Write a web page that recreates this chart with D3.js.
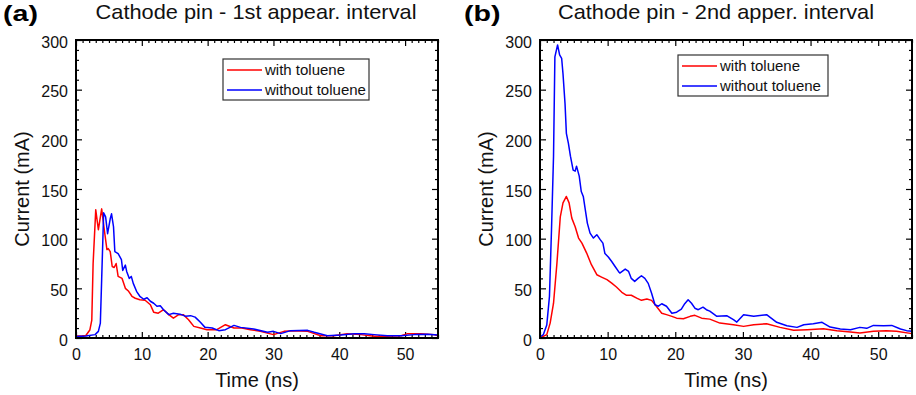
<!DOCTYPE html>
<html>
<head>
<meta charset="utf-8">
<script src="https://cdn.jsdelivr.net/npm/d3@7"></script>
<style>
  body { margin: 0; background: #fff; }
  svg { font-family: "Liberation Sans", Arial, sans-serif; }
</style>
</head>
<body>
<svg id="chart" width="916" height="395"></svg>
<script>
// ---- data (time in ns, current in mA) ----
const aWithT = [0, 1, 1.5, 2.1, 2.4, 2.6, 3.0, 3.4, 3.9, 4.3, 4.7, 4.9, 5.2, 5.5, 5.8, 6.1, 6.4, 7.0, 7.5, 8.0, 8.5, 9.0, 9.7, 10.5, 11.3, 11.8, 12.5, 13.3, 14.1, 14.8, 15.6, 16.3, 17.1, 17.9, 18.9, 19.9, 21.4, 22.7, 24.0, 25.2, 26.5, 28, 30, 31.6, 33.1, 35.2, 37.2, 39.2, 41.2, 43.3, 45.3, 47.3, 49.4, 50.4, 52.4, 54.4, 55];
const aWithI = [2, 2, 2.5, 8, 18, 75, 129, 109, 130, 109, 89, 90, 87, 72, 71, 75, 62, 60, 50, 47, 42, 40, 38.5, 38, 33.5, 26, 25, 28.5, 23.5, 20, 23.5, 23.5, 18.4, 11.7, 10, 8.4, 8.4, 13.4, 10, 10, 8.4, 6.7, 3.4, 6.7, 7.4, 6.7, 2.3, 2.3, 4.4, 3.4, 1.7, 1.7, 2.3, 4.4, 4.4, 3.4, 2.3];
const aWithoutT = [0, 1.5, 2.9, 3.4, 3.7, 3.9, 4.2, 4.5, 4.8, 5.2, 5.4, 5.7, 5.9, 6.4, 6.9, 7.1, 7.5, 7.7, 8.1, 8.4, 8.7, 9.2, 9.7, 10.3, 10.8, 11.3, 11.8, 12.3, 12.8, 13.3, 14.1, 14.8, 15.8, 16.6, 17.4, 18.1, 18.9, 19.6, 20.7, 21.7, 22.7, 24, 25, 27, 29.1, 30, 31.1, 32.6, 35.2, 36.2, 38.2, 40.2, 42.3, 43.8, 45.3, 47.3, 49.4, 51.4, 53.4, 55];
const aWithoutI = [1.5, 2, 3.4, 6.7, 15, 59, 126, 122, 105, 120, 125, 112, 87, 85, 79, 68, 73.4, 67, 60, 62, 55, 47, 42, 39, 40.5, 37, 35, 32, 32.5, 28.5, 23.5, 25, 24, 22, 22.5, 21, 15.8, 10.7, 10, 7.4, 8.4, 12.7, 10.7, 9, 5.7, 6.7, 4.4, 7.4, 7.7, 5.7, 2.3, 3, 4.4, 4.4, 3.4, 2.3, 2.3, 3.4, 3.7, 3];

const bWithT = [0, 1, 1.5, 2.0, 2.5, 3.0, 3.4, 3.9, 4.3, 4.7, 5.2, 5.7, 6.2, 6.9, 7.6, 8.4, 9.1, 9.9, 10.6, 11.3, 12.1, 12.8, 13.5, 14.3, 15.0, 15.8, 16.5, 17.2, 18.0, 18.7, 19.5, 20.2, 21.2, 22.2, 22.9, 23.9, 25.1, 26.6, 28.6, 30.1, 31.6, 33.5, 35.5, 37.5, 39.5, 41.9, 43.9, 45.9, 47.3, 49.3, 51.2, 52.7, 55];
const bWithI = [0, 3.4, 15, 35, 75, 122, 136, 142.5, 136, 120.7, 112, 100.6, 95.5, 85.5, 73.8, 63.7, 61.3, 58.7, 55.3, 51.3, 46, 43, 43, 40.2, 37.9, 39.2, 37.9, 32, 25, 23.5, 21.8, 20, 19.4, 21.8, 22.8, 20, 19, 15, 13.4, 11.7, 13.4, 14.4, 10.7, 7.7, 8.4, 9.4, 7.4, 6, 5, 6.7, 7.4, 6.7, 4.4];
const bWithoutT = [0, 0.5, 1.0, 1.4, 1.7, 2.0, 2.2, 2.6, 2.9, 3.2, 3.4, 3.7, 3.9, 4.2, 4.5, 4.9, 5.2, 5.4, 5.8, 6.1, 6.4, 6.7, 7.0, 7.4, 7.9, 8.4, 8.9, 9.3, 9.6, 10.1, 10.6, 11.1, 11.6, 11.8, 12.6, 13.1, 13.5, 14.0, 14.5, 15.0, 15.5, 16.0, 16.5, 17.0, 17.5, 18.0, 18.7, 19.5, 20.2, 20.9, 21.4, 21.9, 22.4, 22.9, 23.4, 24.1, 24.6, 25.1, 26.1, 27.6, 28.6, 29.1, 30.1, 31.6, 33.5, 35, 36.5, 38, 39, 40.4, 41.7, 42.9, 44.4, 45.9, 47.3, 48.3, 49.3, 50.8, 52, 53.3, 54.2, 55];
const bWithoutI = [1, 3.4, 13, 42, 109, 183, 283, 295, 285, 281.6, 266, 236, 206, 196, 183, 169, 168, 173, 163, 147.5, 142.5, 129, 115.7, 105.6, 100.6, 104, 99, 95.5, 85, 81.5, 77, 72, 67, 65.4, 69.4, 67, 60, 57, 60, 62.7, 60, 55, 45, 33.5, 32, 34.5, 32, 25, 26, 29, 34.5, 38.5, 35, 30, 28.5, 31, 28.5, 27, 22, 22.5, 18.4, 16, 23.5, 22, 23.5, 15.8, 12.4, 10.7, 13.4, 14.4, 15.8, 11, 9, 8.4, 10.7, 9.7, 12.7, 12.4, 12.7, 9, 7.4, 6.7];

const seriesNames = ["with toluene", "without toluene"];
const seriesColors = ["#ff0000", "#0000ff"];
const xTicks = [0, 10, 20, 30, 40, 50];
const yTicks = [0, 50, 100, 150, 200, 250, 300];

const panels = [
  { tag: "(a)", title: "Cathode pin - 1st appear. interval", left: 76, right: 438, titleX: 256, tagX: 3,
    legend: { x: 223, y: 59, w: 146, h: 41 },
    series: [d3.zip(aWithT, aWithI), d3.zip(aWithoutT, aWithoutI)] },
  { tag: "(b)", title: "Cathode pin - 2nd apper. interval", left: 540, right: 912, titleX: 716, tagX: 464,
    legend: { x: 678, y: 55, w: 150, h: 41 },
    series: [d3.zip(bWithT, bWithI), d3.zip(bWithoutT, bWithoutI)] }
];

const plotTop = 40, plotBottom = 338;
const svg = d3.select("#chart");

panels.forEach(p => {
  const x = d3.scaleLinear().domain([0, 55]).range([p.left, p.right]);
  const y = d3.scaleLinear().domain([0, 300]).range([plotBottom, plotTop]);
  const g = svg.append("g");

  const minorX = d3.range(0, 56, 1).filter(v => v % 10 !== 0);
  const minorY = d3.range(0, 301, 10).filter(v => v % 50 !== 0);

  // ticks on all four sides, pointing inward
  const addAxis = (axis, tr) => {
    const a = g.append("g").attr("transform", tr).call(axis);
    a.select(".domain").remove();
    a.selectAll("line").attr("stroke", "#000").attr("stroke-width", 1.2);
    return a;
  };
  addAxis(d3.axisBottom(x).tickValues(minorX).tickSize(-3).tickFormat(""), `translate(0,${plotBottom})`);
  addAxis(d3.axisTop(x).tickValues(minorX).tickSize(-3).tickFormat(""), `translate(0,${plotTop})`);
  addAxis(d3.axisLeft(y).tickValues(minorY).tickSize(-3).tickFormat(""), `translate(${p.left},0)`);
  addAxis(d3.axisRight(y).tickValues(minorY).tickSize(-3).tickFormat(""), `translate(${p.right},0)`);

  const bx = addAxis(d3.axisBottom(x).tickValues(xTicks).tickSize(-6).tickPadding(11).tickFormat(d3.format("d")), `translate(0,${plotBottom})`);
  addAxis(d3.axisTop(x).tickValues(xTicks).tickSize(-6).tickFormat(""), `translate(0,${plotTop})`);
  const ly = addAxis(d3.axisLeft(y).tickValues(yTicks).tickSize(-6).tickPadding(8).tickFormat(d3.format("d")), `translate(${p.left},0)`);
  addAxis(d3.axisRight(y).tickValues(yTicks).tickSize(-6).tickFormat(""), `translate(${p.right},0)`);
  bx.selectAll("text").attr("font-size", 16).attr("fill", "#111").attr("font-family", "Liberation Sans, Arial, sans-serif");
  ly.selectAll("text").attr("font-size", 16).attr("fill", "#111").attr("dy", "0.45em").attr("font-family", "Liberation Sans, Arial, sans-serif");

  // lines
  const line = d3.line().x(d => x(d[0])).y(d => y(d[1]));
  p.series.forEach((s, i) => {
    g.append("path").datum(s)
      .attr("d", line)
      .attr("fill", "none")
      .attr("stroke", seriesColors[i])
      .attr("stroke-width", 1.5)
      .attr("stroke-linejoin", "round");
  });

  // frame
  g.append("rect")
    .attr("x", p.left).attr("y", plotTop)
    .attr("width", p.right - p.left).attr("height", plotBottom - plotTop)
    .attr("fill", "none").attr("stroke", "#000").attr("stroke-width", 2);

  // legend
  const L = p.legend;
  const lg = g.append("g");
  lg.append("rect").attr("x", L.x).attr("y", L.y).attr("width", L.w).attr("height", L.h)
    .attr("fill", "#fff").attr("stroke", "#333").attr("stroke-width", 1.2);
  seriesNames.forEach((n, i) => {
    const yy = L.y + 11 + i * 20;
    lg.append("line").attr("x1", L.x + 4).attr("x2", L.x + 39).attr("y1", yy).attr("y2", yy)
      .attr("stroke", seriesColors[i]).attr("stroke-width", 1.5);
    lg.append("text").attr("x", L.x + 42).attr("y", yy + 5).attr("font-size", 15).attr("fill", "#111").text(n);
  });

  // titles
  svg.append("text").attr("transform", `translate(${p.tagX},21) scale(1.3,1)`)
    .attr("font-size", 22).attr("font-weight", "bold").text(p.tag);
  svg.append("text").attr("transform", `translate(${p.titleX},19) scale(1.09,1)`)
    .attr("text-anchor", "middle").attr("font-size", 20).attr("fill", "#111").text(p.title);
  svg.append("text").attr("x", (p.left + p.right) / 2).attr("y", 387).attr("text-anchor", "middle")
    .attr("font-size", 20).attr("fill", "#111").text("Time (ns)");
  svg.append("text").attr("transform", `translate(${p.left - 47},${(plotTop + plotBottom) / 2}) rotate(-90)`)
    .attr("text-anchor", "middle").attr("font-size", 20).attr("fill", "#111").text("Current (mA)");
});
</script>
</body>
</html>
